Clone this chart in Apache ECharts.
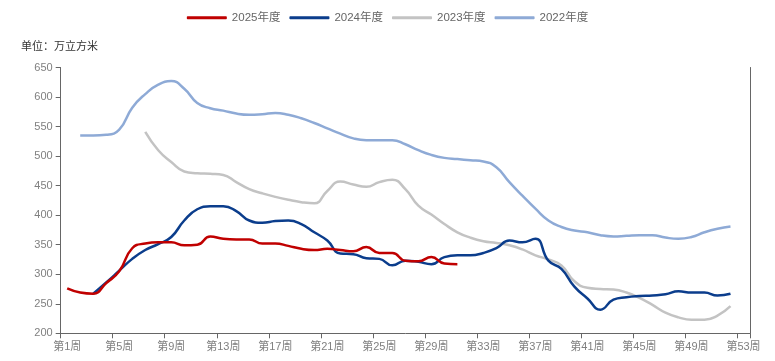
<!DOCTYPE html>
<html>
<head>
<meta charset="utf-8">
<script src="https://cdn.jsdelivr.net/npm/echarts@6/dist/echarts.min.js"></script>
<style>
html,body{margin:0;padding:0;background:#fff;}
#chart{width:775px;height:361px;}
</style>
</head>
<body>
<div id="chart"></div>
<script>
// Categories: weeks 1..53
var weeks = [];
for (var i = 1; i <= 53; i++) { weeks.push('第' + i + '周'); }

var yTickMin = 200, yTickMax = 650, yTickStep = 50;
var unitLabel = '单位：万立方米';
var seriesNames = ['2025年度', '2024年度', '2023年度', '2022年度'];

var s2025 = [276, 269, 267, 285, 305, 344, 352, 354, 354, 349, 350, 364, 360, 359, 359, 352, 352, 348, 343, 341, 343, 341, 339, 346, 336, 336, 323, 322, 329, 318, 317];

var s2024 = [null, null, 267, 286, 306, 326, 341, 351, 363, 391, 410, 415, 415, 407, 391, 387, 390, 391, 385, 371, 357, 335, 334, 327, 326, 315, 323, 321, 317, 329, 332, 332, 336, 344, 357, 354, 360, 323, 309, 279, 259, 240, 257, 261, 263, 264, 266, 271, 269, 269, 264, 267];

var s2023 = [null, null, null, null, null, null, 541, 510, 490, 474, 471, 470, 468, 456, 444, 437, 431, 426, 422, 420, 441, 457, 452, 448, 456, 460, 444, 416, 401, 385, 371, 362, 356, 353, 349, 342, 332, 325, 315, 288, 277, 275, 274, 269, 260, 248, 235, 227, 223, 223, 230, 246];

var s2022 = [null, 535, 535, 536, 545, 582, 605, 621, 627, 614, 590, 581, 577, 572, 570, 571, 573, 570, 564, 556, 547, 538, 530, 527, 527, 527, 520, 510, 502, 497, 495, 493, 491, 481, 456, 433, 411, 391, 380, 374, 371, 366, 364, 365, 366, 366, 362, 360, 363, 371, 377, 381];

var colors = {'2025年度': '#c00000', '2024年度': '#0b3d8c', '2023年度': '#c3c3c3', '2022年度': '#8eaad6'};

function mk(name, data) {
  return {
    name: name, type: 'line', data: data, smooth: true, showSymbol: false,
    symbol: 'none', connectNulls: false,
    lineStyle: {width: 2.5, color: colors[name]},
    itemStyle: {color: colors[name]}
  };
}

var chart = echarts.init(document.getElementById('chart'), null, {renderer: 'canvas'});
chart.setOption({
  animation: false,
  backgroundColor: '#fff',
  textStyle: {fontFamily: 'Liberation Sans, Arial, "Noto Sans CJK SC", sans-serif'},
  title: {
    text: unitLabel, left: 16, top: 35,
    textStyle: {fontSize: 11, fontWeight: 'normal', color: '#333', fontFamily: '"Noto Sans CJK SC", sans-serif'}
  },
  legend: {
    data: seriesNames, top: 7, left: 'center',
    icon: 'roundRect', itemWidth: 40, itemHeight: 3, itemGap: 9,
    textStyle: {fontSize: 11.5, color: '#666', fontFamily: 'Liberation Sans, Arial, "Noto Sans CJK SC", sans-serif'}
  },
  grid: {left: 60.7, right: 25, top: 67.5, bottom: 27.7, containLabel: false},
  xAxis: {
    type: 'category', data: weeks, boundaryGap: true,
    axisLine: {show: true, lineStyle: {color: '#666', width: 1}},
    axisTick: {show: true, interval: 3, length: 5, lineStyle: {color: '#666'}},
    axisLabel: {interval: 3, color: '#808080', fontSize: 11, margin: 8, fontFamily: 'Liberation Sans, Arial, "Noto Sans CJK SC", sans-serif'},
    splitLine: {show: false}
  },
  yAxis: [{
    type: 'value', min: yTickMin, max: yTickMax, interval: yTickStep,
    axisLine: {show: true, lineStyle: {color: '#666', width: 1}},
    axisTick: {show: true, length: 5, lineStyle: {color: '#666'}},
    axisLabel: {color: '#808080', fontSize: 11, margin: 8},
    splitLine: {show: false}
  }, {
    type: 'value', position: 'right', min: yTickMin, max: yTickMax, interval: yTickStep,
    axisLine: {show: true, lineStyle: {color: '#666', width: 1}},
    axisTick: {show: false}, axisLabel: {show: false}, splitLine: {show: false}
  }],
  series: [
    mk('2022年度', s2022),
    mk('2023年度', s2023),
    mk('2024年度', s2024),
    mk('2025年度', s2025)
  ]
});
</script>
</body>
</html>
